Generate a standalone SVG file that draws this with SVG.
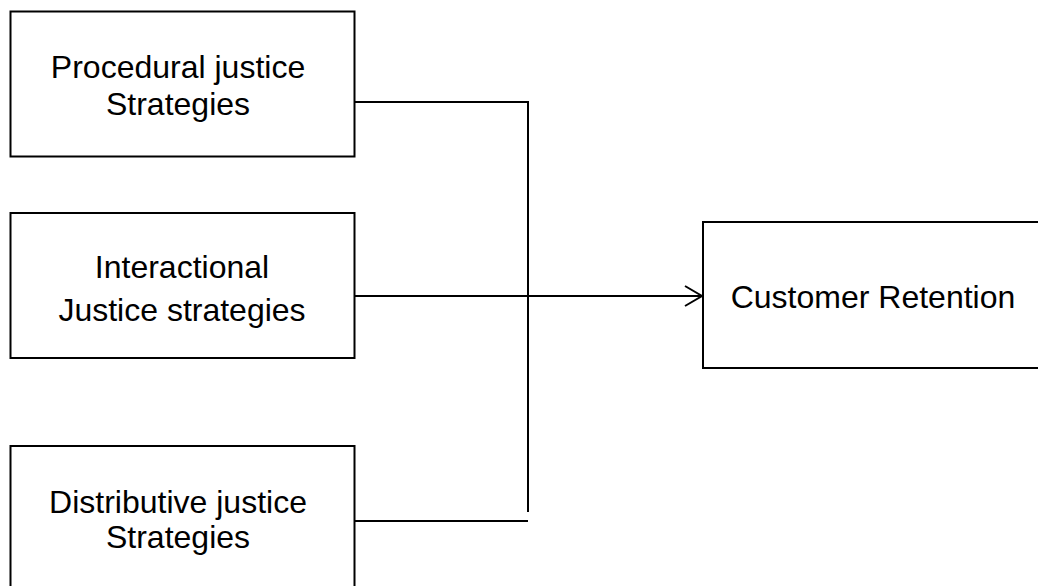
<svg xmlns="http://www.w3.org/2000/svg" width="1038" height="586" viewBox="0 0 1038 586">
  <style>
    .box { fill: #ffffff; stroke: #000000; stroke-width: 2; }
    .label { font-family: "Liberation Sans", Arial, sans-serif; font-size: 32px; fill: #000000; text-anchor: middle; }
    .wire { fill: none; stroke: #000000; stroke-width: 2; }
  </style>
  <defs>
    <marker id="open-arrow" markerWidth="20" markerHeight="24" refX="18" refY="11" orient="auto" markerUnits="userSpaceOnUse">
      <path d="M1,1 L18,11 L1,21" fill="none" stroke="#000000" stroke-width="2"/>
    </marker>
  </defs>
  <rect width="1038" height="586" fill="#ffffff"/>

  <g id="connectors">
    <path class="wire" d="M354.5,102 H528 V512"/>
    <path class="wire" d="M354.5,521 H528"/>
    <path class="wire" d="M354.5,296 H702" marker-end="url(#open-arrow)"/>
  </g>

  <g id="procedural">
    <rect class="box" x="10.5" y="11.5" width="344" height="145"/>
    <text class="label" x="178" y="78">Procedural justice</text>
    <text class="label" x="178" y="115">Strategies</text>
  </g>

  <g id="interactional">
    <rect class="box" x="10.5" y="213" width="344" height="145"/>
    <text class="label" x="182" y="278">Interactional</text>
    <text class="label" x="182" y="321">Justice strategies</text>
  </g>

  <g id="distributive">
    <rect class="box" x="10.5" y="446" width="344" height="150"/>
    <text class="label" x="178" y="513">Distributive justice</text>
    <text class="label" x="178" y="548">Strategies</text>
  </g>

  <g id="retention">
    <rect class="box" x="703" y="222" width="345" height="146"/>
    <text class="label" x="873" y="308">Customer Retention</text>
  </g>
</svg>
